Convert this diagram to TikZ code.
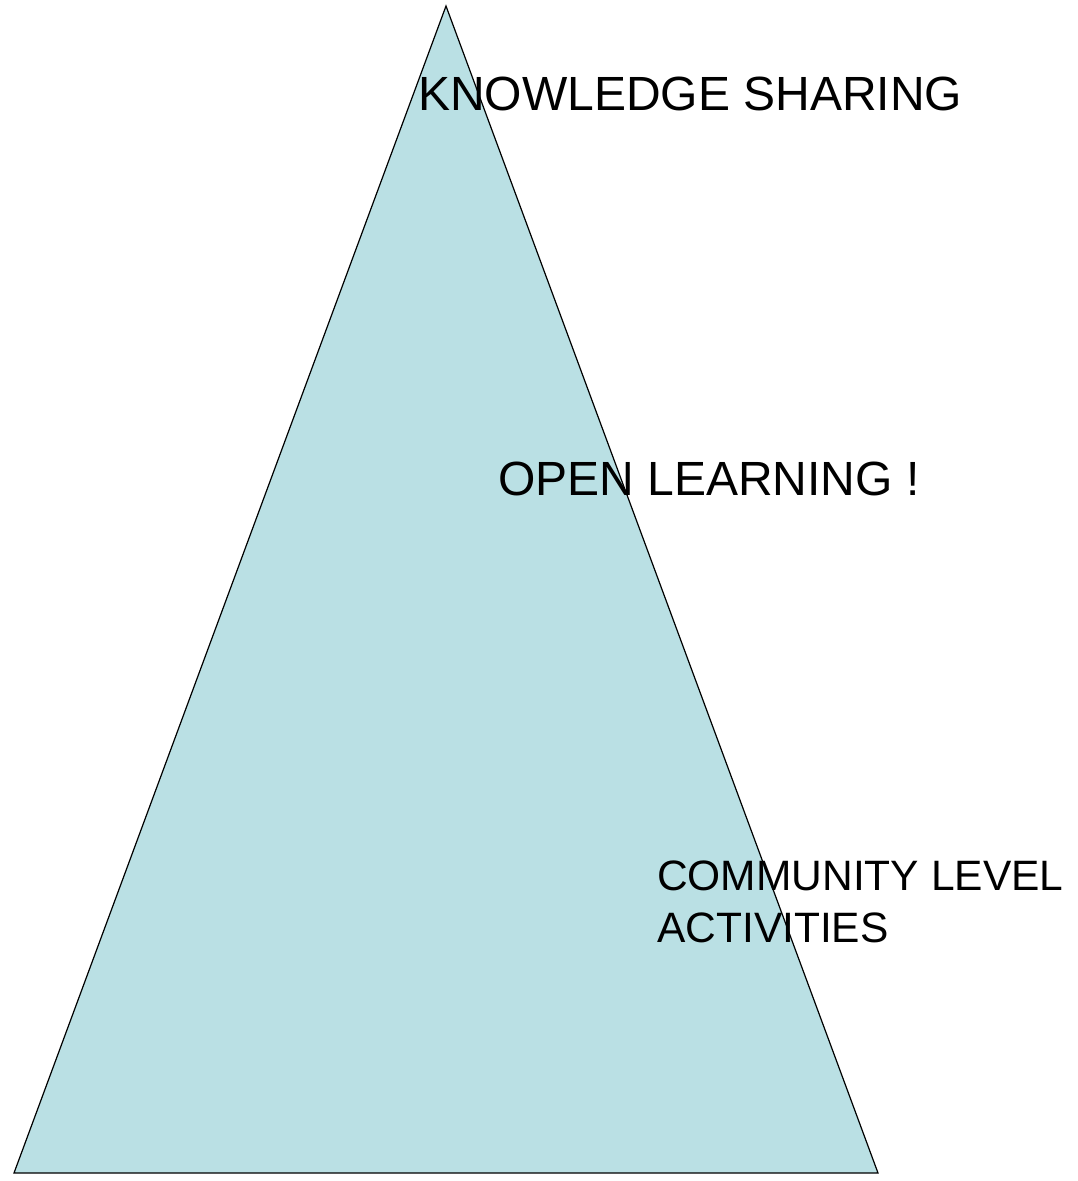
\documentclass[tikz,border=0pt]{standalone}
\usepackage{fontspec}
\setmainfont{Liberation Sans}
\usepackage{tikz}
\definecolor{pyramidblue}{RGB}{186,224,228}
\tikzstyle{pyramid} = [draw=black, fill=pyramidblue, line width=1.2pt]
\tikzstyle{levellabel} = [anchor=base west, inner sep=0pt, font=\fontsize{48}{52}\selectfont]
\tikzstyle{smalllabel} = [anchor=base west, inner sep=0pt, align=left, font=\fontsize{42.5}{52}\selectfont]

\begin{document}
\begin{tikzpicture}[x=1pt,y=-1pt]
		\useasboundingbox (0,0) rectangle (1077,1181);
		\coordinate (apex) at (446,6);
		\coordinate (left) at (14,1173);
		\coordinate (right) at (878,1173);
		\draw[pyramid] (apex) -- (right) -- (left) -- cycle;
		\node[levellabel] (sharing) at (418,110) {KNOWLEDGE SHARING};
		\node[levellabel] (learning) at (498,495) {OPEN LEARNING !};
		\node[smalllabel] (community) at (657,942) {COMMUNITY LEVEL\\ACTIVITIES};
	\end{tikzpicture}
\end{document}
